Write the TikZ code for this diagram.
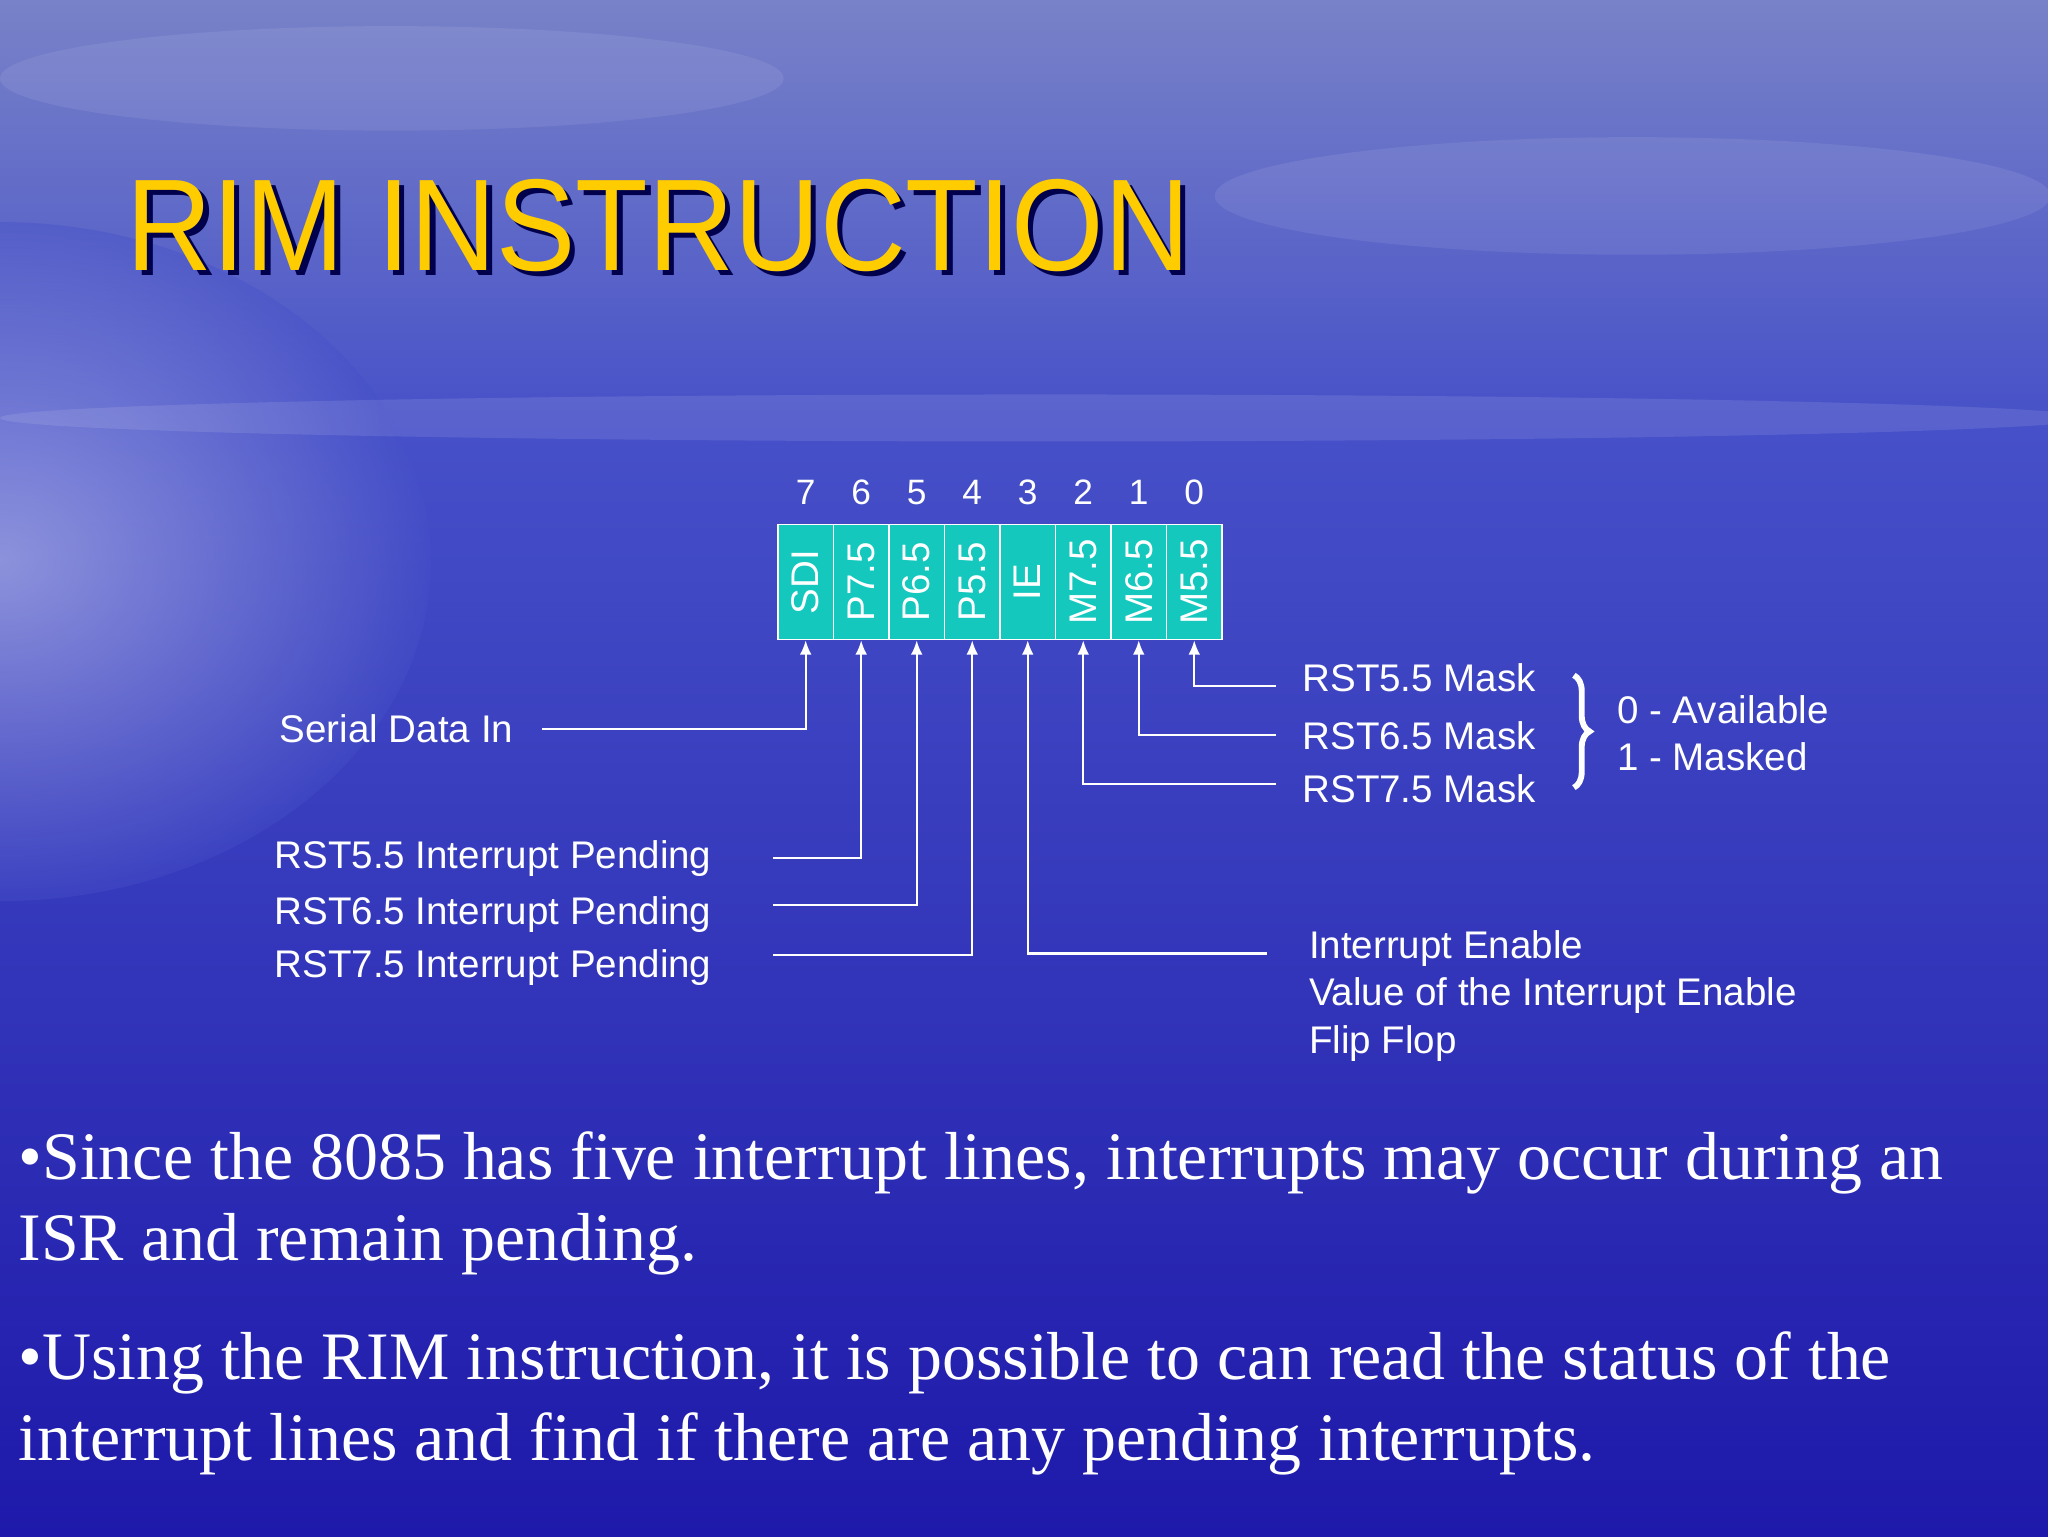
\documentclass[tikz,border=0pt]{standalone}
\usepackage{fontspec}
\setmainfont{Liberation Serif}
\setsansfont{Liberation Sans}
\usetikzlibrary{decorations.pathreplacing,calc,arrows.meta}
\definecolor{bgtop}{RGB}{120,130,200}
\definecolor{bgmid}{RGB}{70,80,200}
\definecolor{bgbot}{RGB}{30,25,170}
\definecolor{cell}{RGB}{20,200,190}
\definecolor{ttl}{RGB}{255,204,0}
\tikzset{
  lbl/.style={text=white,font=\sffamily\fontsize{29.5}{34}\selectfont,inner sep=0pt},
  wire/.style={draw=white,line width=1.6pt},
  arr/.style={wire,-{Latex[length=11pt,width=9pt]}},
  bul/.style={text=white,font=\rmfamily\fontsize{52}{62}\selectfont,inner sep=0pt,align=left,anchor=north west},
}
\begin{document}
\begin{tikzpicture}[x=1pt,y=-1pt]
\useasboundingbox (0,0) rectangle (1568,1176);
\shade[top color=bgtop,bottom color=bgmid] (0,0) rectangle (1568,330);
\shade[top color=bgmid,bottom color=bgbot] (0,330) rectangle (1568,1176);
\shade[inner color=white,outer color=bgmid,opacity=0.4] (0,430) ellipse (330 and 260);
\fill[white,opacity=0.08] (300,60) ellipse (300 and 40);
\fill[white,opacity=0.08] (1250,150) ellipse (320 and 45);
\fill[white,opacity=0.1] (800,320) ellipse (800 and 18);
% title
\node[anchor=base west,inner sep=0pt,text=black!70!blue,font=\sffamily\fontsize{100}{110}\selectfont] (tshadow) at (101,211) {\scalebox{0.91}[1]{RIM INSTRUCTION}};
\node[anchor=base west,inner sep=0pt,text=ttl,font=\sffamily\fontsize{100}{110}\selectfont] (title) at (97,207) {\scalebox{0.91}[1]{RIM INSTRUCTION}};
% register
\foreach \t [count=\i from 0] in {SDI,P7.5,P6.5,P5.5,IE,M7.5,M6.5,M5.5}{
  \pgfmathsetmacro\xa{595+42.5*\i}
  \node[draw=white,line width=1.2pt,fill=cell,minimum width=42.5pt,minimum height=88pt,inner sep=0pt,anchor=north west] (c\i) at (\xa,401) {};
  \node[lbl,rotate=90] at (c\i.center) {\t};
  \pgfmathtruncatemacro\b{7-\i}
  \node[lbl,font=\sffamily\fontsize{27}{32}\selectfont] at ($(c\i.north)+(0,-24)$) {\b};
}
% left labels
\node[lbl,anchor=west] (sdi) at (214,558) {Serial Data In};
\node[lbl,anchor=west] (p75) at (210,657) {RST5.5 Interrupt Pending};
\node[lbl,anchor=west] (p65) at (210,700) {RST6.5 Interrupt Pending};
\node[lbl,anchor=west] (p55) at (210,741) {RST7.5 Interrupt Pending};
\coordinate (k0) at (415,558);
\coordinate (k1) at (592,657);
\coordinate (k2) at (592,693);
\coordinate (k3) at (592,731);
\draw[arr] (k0) -| (c0.south);
\draw[arr] (k1) -| (c1.south);
\draw[arr] (k2) -| (c2.south);
\draw[arr] (k3) -| (c3.south);
% right labels
\node[lbl,anchor=west] (m55) at (997,519) {RST5.5 Mask};
\node[lbl,anchor=west] (m65) at (997,563) {RST6.5 Mask};
\node[lbl,anchor=west] (m75) at (997,604) {RST7.5 Mask};
\coordinate (r7) at (977,525);
\coordinate (r6) at (977,563);
\coordinate (r5) at (977,600);
\coordinate (r4) at (970,730);
\draw[arr] (r7) -| (c7.south);
\draw[arr] (r6) -| (c6.south);
\draw[arr] (r5) -| (c5.south);
\draw[arr] (r4) -| (c4.south);
\node[lbl,anchor=north west,align=left,font=\sffamily\fontsize{29.5}{36.5}\selectfont] (ie) at (1002,712) {Interrupt Enable\\Value of the Interrupt Enable\\Flip Flop};
\draw[white,line width=4.5pt,decorate,decoration={brace,amplitude=12pt}] (1205,517) -- (1205,603);
\node[lbl,anchor=west] (av) at (1238,543) {0 - Available};
\node[lbl,anchor=west] (ms) at (1238,579) {1 - Masked};
% bullets
\node[bul] (b1) at (14,866) {•Since the 8085 has five interrupt lines, interrupts may occur during an\\ISR and remain pending.};
\node[bul] (b2) at (14,1019) {•Using the RIM instruction, it is possible to can read the status of the\\interrupt lines and find if there are any pending interrupts.};
\end{tikzpicture}
\end{document}
